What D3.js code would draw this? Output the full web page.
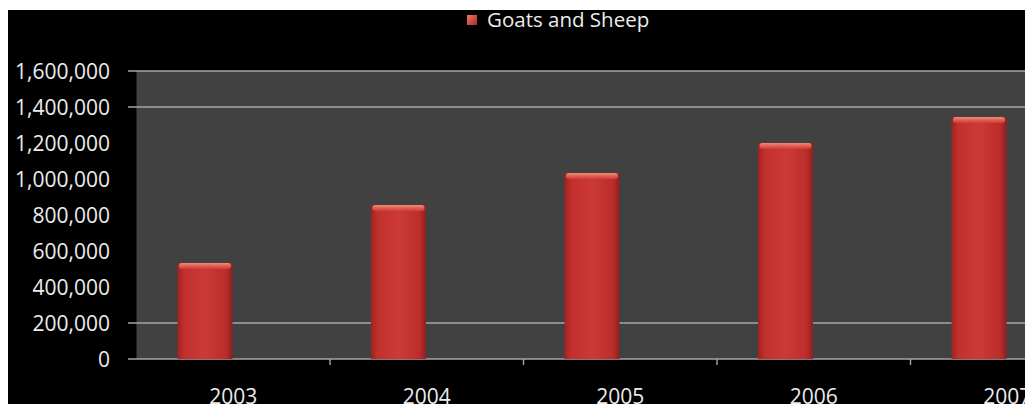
<!DOCTYPE html>
<html><head><meta charset="utf-8">
<script src="https://cdn.jsdelivr.net/npm/d3@7"></script>
<style>html,body{margin:0;padding:0;background:#fff;overflow:hidden}svg{display:block}</style>
</head><body>
<svg id="chart" width="1025" height="404"></svg>
<script>
const categories = ["2003", "2004", "2005", "2006", "2007"];
const seriesNames = ["Goats and Sheep", "(blank)"];
const goatsAndSheep = [533000, 855000, 1033000, 1200000, 1344000];
const yTicks = [0, 200000, 400000, 600000, 800000, 1000000, 1200000, 1400000, 1600000];
const visibleGridlines = [0, 200000, 1400000, 1600000];

const svg = d3.select("#chart");
const W = 1025, H = 404;
const plot = {left: 136.5, top: 71, bottom: 359};
const catStep = 193.5;

svg.append("rect").attr("x", 8).attr("y", 10).attr("width", W - 8).attr("height", H - 10).attr("fill", "#000");

const defs = svg.append("defs");
const g1 = defs.append("linearGradient").attr("id", "barGrad").attr("x1", 0).attr("x2", 1).attr("y1", 0).attr("y2", 0);
[[0, "#9e2222"], [0.12, "#c0302c"], [0.5, "#cc3a36"], [0.88, "#bb2e2b"], [1, "#8e1f1f"]]
  .forEach(([o, c]) => g1.append("stop").attr("offset", o).attr("stop-color", c));
const g2 = defs.append("linearGradient").attr("id", "capGrad").attr("x1", 0).attr("x2", 0).attr("y1", 0).attr("y2", 1);
[[0, "#f08a78"], [0.5, "#e0604f"], [1, "#cc3a36"]]
  .forEach(([o, c]) => g2.append("stop").attr("offset", o).attr("stop-color", c));
const g3 = defs.append("linearGradient").attr("id", "legGrad").attr("x1", 0).attr("x2", 1).attr("y1", 0).attr("y2", 1);
[[0, "#e8776a"], [1, "#b02a28"]].forEach(([o, c]) => g3.append("stop").attr("offset", o).attr("stop-color", c));

const x0 = d3.scaleBand().domain(categories).range([plot.left, plot.left + catStep * categories.length]).padding(0);
const x1 = d3.scaleBand().domain(seriesNames).range([41, 151]).padding(0);
const y = d3.scaleLinear().domain([0, 1600000]).range([plot.bottom, plot.top]);

// plot area background
svg.append("rect").attr("x", plot.left).attr("y", plot.top).attr("width", W - plot.left).attr("height", plot.bottom - plot.top).attr("fill", "#414141");

// gridlines
svg.append("g").selectAll("line").data(visibleGridlines).join("line")
  .attr("x1", 128).attr("x2", W).attr("y1", d => y(d)).attr("y2", d => y(d))
  .attr("stroke", "#a6a6a6").attr("stroke-width", 1.6);

// x-axis tick marks at category boundaries
svg.append("g").selectAll("line").data(categories.slice(1)).join("line")
  .attr("x1", d => x0(d)).attr("x2", d => x0(d)).attr("y1", plot.bottom).attr("y2", plot.bottom + 6)
  .attr("stroke", "#a6a6a6").attr("stroke-width", 1.4);

// bars
const bars = svg.append("g").selectAll("g").data(goatsAndSheep).join("g")
  .attr("transform", (d, i) => `translate(${x0(categories[i]) + x1(seriesNames[0])},0)`);
bars.append("rect").attr("x", 0).attr("y", d => y(d)).attr("width", x1.bandwidth()).attr("height", d => plot.bottom - y(d))
  .attr("fill", "url(#barGrad)");
bars.append("rect").attr("x", 1.5).attr("y", d => y(d)).attr("width", x1.bandwidth() - 3).attr("height", 6).attr("rx", 3)
  .attr("fill", "url(#capGrad)");

// y-axis labels
const fmt = d3.format(",");
svg.append("g").selectAll("text").data(yTicks).join("text")
  .attr("x", 110).attr("y", d => y(d)).attr("dy", "0.36em").attr("text-anchor", "end")
  .attr("fill", "#ececec").attr("font-family", "Open Sans").attr("font-size", 21)
  .text(d => fmt(d));

// x-axis labels
svg.append("g").selectAll("text").data(categories).join("text")
  .attr("x", d => x0(d) + x0.bandwidth() / 2).attr("y", 404).attr("text-anchor", "middle")
  .attr("fill", "#ececec").attr("font-family", "Open Sans").attr("font-size", 21)
  .text(d => d);

// legend
svg.append("rect").attr("x", 467).attr("y", 15).attr("width", 10).attr("height", 10).attr("fill", "url(#legGrad)");
svg.append("text").attr("x", 487).attr("y", 27).attr("fill", "#ececec").attr("font-family", "Open Sans").attr("font-size", 20.5)
  .text(seriesNames[0]);
</script>
</body></html>
